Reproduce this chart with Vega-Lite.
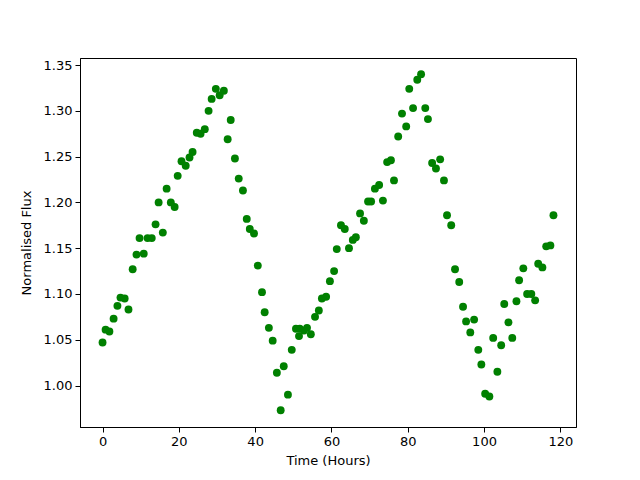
{
  "$schema": "https://vega.github.io/schema/vega-lite/v6.json",
  "autosize": {"type": "none"},
  "width": 496,
  "height": 369,
  "padding": {"left": 80, "top": 58, "right": 64, "bottom": 53},
  "background": "white",
  "config": {
    "view": {"stroke": "black", "strokeWidth": 1},
    "axis": {
      "grid": false,
      "domainColor": "black",
      "tickColor": "black",
      "tickSize": 5,
      "labelColor": "black",
      "titleColor": "black",
      "labelFont": "DejaVu Sans",
      "titleFont": "DejaVu Sans",
      "labelFontSize": 13,
      "titleFontSize": 13,
      "titleFontWeight": "normal",
      "labelPadding": 3
    }
  },
  "data": {
    "values": [
      {"t": 0, "f": 1.047}, {"t": 0.8, "f": 1.061}, {"t": 1.8, "f": 1.059}, {"t": 2.9, "f": 1.073},
      {"t": 3.9, "f": 1.087}, {"t": 4.7, "f": 1.096}, {"t": 5.8, "f": 1.095}, {"t": 6.8, "f": 1.083},
      {"t": 7.9, "f": 1.127}, {"t": 8.9, "f": 1.143}, {"t": 9.7, "f": 1.161}, {"t": 10.8, "f": 1.144},
      {"t": 11.8, "f": 1.161}, {"t": 12.9, "f": 1.161}, {"t": 13.9, "f": 1.176}, {"t": 14.7, "f": 1.2},
      {"t": 15.8, "f": 1.167}, {"t": 16.8, "f": 1.215}, {"t": 17.9, "f": 1.2}, {"t": 18.9, "f": 1.195},
      {"t": 19.7, "f": 1.229}, {"t": 20.7, "f": 1.245}, {"t": 21.8, "f": 1.24}, {"t": 22.8, "f": 1.249},
      {"t": 23.6, "f": 1.255}, {"t": 24.7, "f": 1.276}, {"t": 25.7, "f": 1.275}, {"t": 26.8, "f": 1.28},
      {"t": 27.8, "f": 1.3}, {"t": 28.6, "f": 1.313}, {"t": 29.7, "f": 1.324}, {"t": 30.7, "f": 1.317},
      {"t": 31.8, "f": 1.322}, {"t": 32.8, "f": 1.269}, {"t": 33.6, "f": 1.29}, {"t": 34.7, "f": 1.248},
      {"t": 35.7, "f": 1.226}, {"t": 36.8, "f": 1.213}, {"t": 37.8, "f": 1.182}, {"t": 38.6, "f": 1.171},
      {"t": 39.7, "f": 1.166}, {"t": 40.7, "f": 1.131}, {"t": 41.8, "f": 1.102}, {"t": 42.5, "f": 1.08},
      {"t": 43.6, "f": 1.063}, {"t": 44.6, "f": 1.049}, {"t": 45.7, "f": 1.014}, {"t": 46.7, "f": 0.973},
      {"t": 47.5, "f": 1.021}, {"t": 48.6, "f": 0.99}, {"t": 49.6, "f": 1.039}, {"t": 50.7, "f": 1.062},
      {"t": 51.5, "f": 1.054}, {"t": 51.7, "f": 1.062}, {"t": 52.8, "f": 1.06}, {"t": 53.6, "f": 1.063},
      {"t": 54.6, "f": 1.056}, {"t": 55.7, "f": 1.075}, {"t": 56.7, "f": 1.082}, {"t": 57.5, "f": 1.095},
      {"t": 58.6, "f": 1.097}, {"t": 59.6, "f": 1.114}, {"t": 60.7, "f": 1.125}, {"t": 61.4, "f": 1.149},
      {"t": 62.5, "f": 1.175}, {"t": 63.5, "f": 1.171}, {"t": 64.6, "f": 1.15}, {"t": 65.6, "f": 1.159},
      {"t": 66.4, "f": 1.162}, {"t": 67.5, "f": 1.188}, {"t": 68.5, "f": 1.18}, {"t": 69.6, "f": 1.201},
      {"t": 70.4, "f": 1.201}, {"t": 71.4, "f": 1.215}, {"t": 72.5, "f": 1.219}, {"t": 73.5, "f": 1.202},
      {"t": 74.6, "f": 1.244}, {"t": 75.6, "f": 1.246}, {"t": 76.4, "f": 1.224}, {"t": 77.5, "f": 1.272},
      {"t": 78.5, "f": 1.297}, {"t": 79.6, "f": 1.283}, {"t": 80.4, "f": 1.324}, {"t": 81.4, "f": 1.303},
      {"t": 82.5, "f": 1.334}, {"t": 83.5, "f": 1.34}, {"t": 84.6, "f": 1.303}, {"t": 85.3, "f": 1.291},
      {"t": 86.4, "f": 1.243}, {"t": 87.4, "f": 1.237}, {"t": 88.5, "f": 1.247}, {"t": 89.5, "f": 1.224},
      {"t": 90.3, "f": 1.186}, {"t": 91.4, "f": 1.175}, {"t": 92.4, "f": 1.127}, {"t": 93.5, "f": 1.113},
      {"t": 94.5, "f": 1.086}, {"t": 95.3, "f": 1.07}, {"t": 96.4, "f": 1.058}, {"t": 97.4, "f": 1.072},
      {"t": 98.5, "f": 1.039}, {"t": 99.3, "f": 1.023}, {"t": 100.3, "f": 0.991}, {"t": 101.4, "f": 0.988},
      {"t": 102.4, "f": 1.052}, {"t": 103.5, "f": 1.015}, {"t": 104.5, "f": 1.044}, {"t": 105.3, "f": 1.089},
      {"t": 106.4, "f": 1.069}, {"t": 107.4, "f": 1.052}, {"t": 108.5, "f": 1.092}, {"t": 109.2, "f": 1.115},
      {"t": 110.3, "f": 1.128}, {"t": 111.3, "f": 1.1}, {"t": 112.4, "f": 1.1}, {"t": 113.4, "f": 1.093},
      {"t": 114.2, "f": 1.133}, {"t": 115.3, "f": 1.129}, {"t": 116.3, "f": 1.152}, {"t": 117.4, "f": 1.153},
      {"t": 118.2, "f": 1.186}
    ]
  },
  "mark": {"type": "circle", "color": "green", "opacity": 1, "size": 62},
  "encoding": {
    "x": {
      "field": "t", "type": "quantitative",
      "scale": {"domain": [-5.91, 124.11], "nice": false, "zero": false},
      "axis": {"title": "Time (Hours)", "values": [0, 20, 40, 60, 80, 100, 120], "format": "d", "titlePadding": 6}
    },
    "y": {
      "field": "f", "type": "quantitative",
      "scale": {"domain": [0.9547, 1.3577], "nice": false, "zero": false},
      "axis": {"title": "Normalised Flux", "values": [1.0, 1.05, 1.1, 1.15, 1.2, 1.25, 1.3, 1.35], "format": ".2f", "titlePadding": 10}
    }
  }
}
